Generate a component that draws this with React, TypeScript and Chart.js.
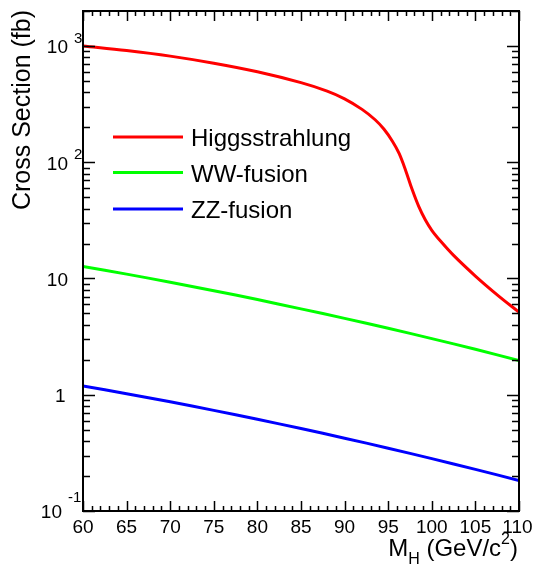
import React, { useEffect, useRef } from "react";
import { Chart, registerables } from "chart.js";

Chart.register(...registerables);

// ---- data ----
const fusionMass = [60, 65, 70, 75, 80, 85, 90, 95, 100, 105, 110];
const wwFusion = [12.7, 10.9, 9.29, 7.85, 6.59, 5.48, 4.54, 3.73, 3.04, 2.46, 1.97];
const zzFusion = [1.19, 1.02, 0.869, 0.734, 0.615, 0.512, 0.423, 0.347, 0.282, 0.228, 0.183];
const hsMass = [60, 65, 70, 75, 80, 85, 88, 90, 92, 93.5, 94.5, 95.5, 96.25, 97, 97.75, 98.5, 99.25, 100, 101, 102.5, 105, 107.5, 110];
const hsXsec = [1000, 914, 818, 711, 600, 484, 409, 351, 285, 232, 193, 151, 119, 85.1, 58.2, 41.7, 32.0, 26.0, 21.0, 15.8, 10.5, 7.24, 5.13];

const seriesNames = ["Higgsstrahlung", "WW-fusion", "ZZ-fusion"];
const seriesColors = ["#ff0000", "#00ff00", "#0000ff"];

const xMajorTicks = [60, 65, 70, 75, 80, 85, 90, 95, 100, 105, 110];
const xMin = 60;
const xMax = 110;
const yMin = 0.1;
const yMax = 2000;
const yDecades = [0.1, 1, 10, 100, 1000];
const yDecadeLabels = [
  { base: "10", sup: "-1" },
  { base: "1", sup: "" },
  { base: "10", sup: "" },
  { base: "10", sup: "2" },
  { base: "10", sup: "3" },
];
const yTitle = "Cross Section (fb)";

const FONT = "'Liberation Sans', Arial, Helvetica, sans-serif";

const framePlugin = {
  id: "rootFrame",
  afterDraw(chart: any) {
    const ctx = chart.ctx as CanvasRenderingContext2D;
    const { left, right, top, bottom } = chart.chartArea;
    const xs = chart.scales.x;
    const ys = chart.scales.y;
    ctx.save();
    ctx.strokeStyle = "#000";
    ctx.fillStyle = "#000";

    // frame
    ctx.lineWidth = 2;
    ctx.strokeRect(left, top, right - left, bottom - top);

    // x ticks (bottom and top, inward)
    ctx.lineWidth = 1.5;
    ctx.beginPath();
    for (let v = xMin; v <= xMax; v += 1) {
      const px = Math.round(xs.getPixelForValue(v)) + 0.5;
      const len = v % 5 === 0 ? 10 : 5;
      ctx.moveTo(px, bottom);
      ctx.lineTo(px, bottom - len);
      ctx.moveTo(px, top);
      ctx.lineTo(px, top + len);
    }
    // y ticks (left and right, inward)
    for (const d of yDecades) {
      for (let k = 1; k <= 9; k++) {
        const v = d * k;
        if (v > yMax + 1e-9 || v < yMin - 1e-9) continue;
        const py = Math.round(ys.getPixelForValue(v)) + 0.5;
        const len = k === 1 ? 12 : 7;
        ctx.moveTo(left, py);
        ctx.lineTo(left + len, py);
        ctx.moveTo(right, py);
        ctx.lineTo(right - len, py);
      }
    }
    ctx.stroke();

    // x tick labels
    ctx.font = `19px ${FONT}`;
    ctx.textAlign = "center";
    ctx.textBaseline = "alphabetic";
    for (const v of xMajorTicks) {
      let px = xs.getPixelForValue(v);
      if (v === xMax) px -= 1.5;
      ctx.fillText(String(v), px, bottom + 22);
    }

    // y tick labels
    yDecades.forEach((d, i) => {
      const py = ys.getPixelForValue(d);
      const lab = yDecadeLabels[i];
      ctx.font = `19px ${FONT}`;
      ctx.textAlign = "right";
      ctx.textBaseline = "alphabetic";
      if (lab.sup === "-1") {
        ctx.fillText(lab.base, 62, py + 7);
        ctx.font = `15px ${FONT}`;
        ctx.textAlign = "left";
        ctx.fillText(lab.sup, 68, py - 9.5);
      } else if (lab.sup) {
        ctx.fillText(lab.base, 68, py + 7.5);
        ctx.font = `15px ${FONT}`;
        ctx.textAlign = "left";
        ctx.fillText(lab.sup, 74, py - 3);
      } else {
        ctx.fillText(lab.base, lab.base === "1" ? 65.5 : 68, py + 7.5);
      }
    });

    // y title
    ctx.save();
    ctx.translate(23, top - 1);
    ctx.rotate(-Math.PI / 2);
    ctx.font = `25px ${FONT}`;
    ctx.textAlign = "right";
    ctx.textBaseline = "middle";
    ctx.fillText(yTitle, 0, 0);
    ctx.restore();

    // x title: M_H (GeV/c^2), right aligned at frame right
    const big = `24px ${FONT}`;
    const small = `16px ${FONT}`;
    const parts = [
      { t: "M", f: big, dy: 0 },
      { t: "H", f: small, dy: 8 },
      { t: " (GeV/c", f: big, dy: 0 },
      { t: "2", f: small, dy: -12 },
      { t: ")", f: big, dy: 0 },
    ];
    let total = 0;
    for (const p of parts) {
      ctx.font = p.f;
      total += ctx.measureText(p.t).width;
    }
    let x = right - 1 - total;
    const base = bottom + 45;
    ctx.textAlign = "left";
    ctx.textBaseline = "alphabetic";
    for (const p of parts) {
      ctx.font = p.f;
      ctx.fillText(p.t, x, base + p.dy);
      x += ctx.measureText(p.t).width;
    }

    // legend
    const legendY = [137, 172.5, 209];
    ctx.lineWidth = 3;
    seriesNames.forEach((name, i) => {
      ctx.strokeStyle = seriesColors[i];
      ctx.beginPath();
      ctx.moveTo(113, legendY[i]);
      ctx.lineTo(183, legendY[i]);
      ctx.stroke();
      ctx.fillStyle = "#000";
      ctx.font = `24px ${FONT}`;
      ctx.textAlign = "left";
      ctx.textBaseline = "alphabetic";
      ctx.fillText(name, 191, legendY[i] + 9);
    });

    ctx.restore();
  },
};

export default function App() {
  const canvasRef = useRef<HTMLCanvasElement | null>(null);

  useEffect(() => {
    const canvas = canvasRef.current;
    if (!canvas) return;
    const hsData = hsMass.map((m, i) => ({ x: m, y: hsXsec[i] }));
    const wwData = fusionMass.map((m, i) => ({ x: m, y: wwFusion[i] }));
    const zzData = fusionMass.map((m, i) => ({ x: m, y: zzFusion[i] }));
    const common = { borderWidth: 3, pointRadius: 0, tension: 0.35, fill: false };
    const chart = new Chart(canvas, {
      type: "line",
      data: {
        datasets: [
          { label: seriesNames[0], data: hsData, borderColor: seriesColors[0], ...common },
          { label: seriesNames[1], data: wwData, borderColor: seriesColors[1], ...common },
          { label: seriesNames[2], data: zzData, borderColor: seriesColors[2], ...common },
        ],
      },
      options: {
        animation: false,
        responsive: false,
        maintainAspectRatio: false,
        layout: { padding: { left: 83, top: 11, right: 17, bottom: 55 } },
        plugins: { legend: { display: false }, tooltip: { enabled: false } },
        scales: {
          x: { type: "linear", min: xMin, max: xMax, display: false },
          y: { type: "logarithmic", min: yMin, max: yMax, display: false },
        },
      },
      plugins: [framePlugin],
    } as any);
    return () => chart.destroy();
  }, []);

  return (
    <div style={{ position: "fixed", left: 0, top: 0, width: 536, height: 566, background: "#fff" }}>
      <canvas ref={canvasRef} width={536} height={566} style={{ display: "block", width: 536, height: 566 }} />
    </div>
  );
}
